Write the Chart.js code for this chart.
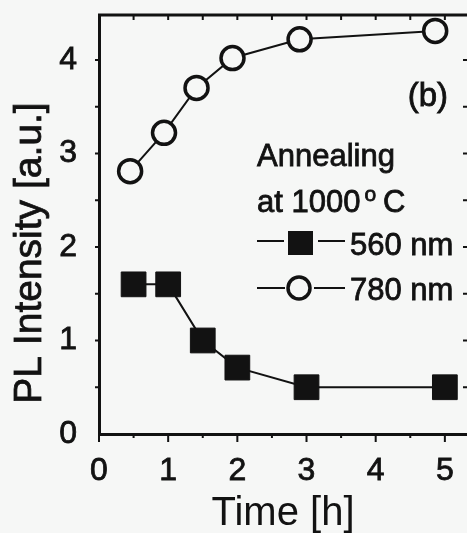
<!DOCTYPE html>
<html lang="en">
<head>
  <meta charset="UTF-8" />
  <title>PL Intensity vs annealing time</title>
  <script src="https://cdn.jsdelivr.net/npm/chart.js"></script>
  <style>
    html, body {
      margin: 0;
      padding: 0;
      background: #f6f7f6;
    }
    #plot {
      display: block;
    }
  </style>
</head>
<body>
  <canvas id="plot" width="467" height="533"></canvas>

  <script>
    // data (the scan is a little skewed, so the
    // 780 nm circles sit slightly left of the nominal times)
    const times560 = [0.5, 1, 1.5, 2, 3, 5];
    const pl560 = [1.6, 1.6, 1.0, 0.71, 0.5, 0.5];
    const times780 = [0.45, 0.94, 1.41, 1.93, 2.9, 4.86];
    const pl780 = [2.81, 3.22, 3.7, 4.02, 4.22, 4.31];
    const xTicks = [0, 1, 2, 3, 4, 5];
    const yTicks = [0, 1, 2, 3, 4];

    const ink = '#121212';
    const bg = '#f6f7f6';
    const font = '"Liberation Sans", Arial, Helvetica, sans-serif';

    const pts = (xs, ys) => xs.map((x, i) => ({ x: x, y: ys[i] }));

    // filled text with a thin outline, the scan prints a bit heavy
    function txt(ctx, s, x, y) {
      ctx.fillText(s, x, y);
      ctx.strokeText(s, x, y);
    }

    // frame, inward/outward ticks, y title, legend text and the (b) label
    const decor = {
      id: 'decor',
      afterDraw(chart) {
        const { ctx, chartArea: a, scales } = chart;
        const xs = scales.x, ys = scales.y;
        ctx.save();
        ctx.strokeStyle = ink;
        ctx.fillStyle = ink;

        // top frame line
        ctx.lineWidth = 3;
        ctx.beginPath();
        ctx.moveTo(a.left - 1, a.top);
        ctx.lineTo(a.right, a.top);
        ctx.stroke();

        ctx.lineWidth = 2;
        ctx.beginPath();
        for (let v = 0; v <= 5; v += 0.5) {
          const px = xs.getPixelForValue(v);
          const major = v % 1 === 0;
          // bottom: outward
          ctx.moveTo(px, a.bottom);
          ctx.lineTo(px, a.bottom + (major ? 8 : 4));
          // top: inward
          if (v > 0) {
            ctx.moveTo(px, a.top);
            ctx.lineTo(px, a.top + 5);
          }
        }
        for (let v = 0.5; v <= 4; v += 0.5) {
          const py = ys.getPixelForValue(v);
          // left: outward
          ctx.moveTo(a.left, py);
          ctx.lineTo(a.left - 4, py);
          // right edge: inward
          ctx.moveTo(a.right, py);
          ctx.lineTo(a.right - 4, py);
        }
        ctx.stroke();

        ctx.lineWidth = 0.8;
        ctx.textBaseline = 'alphabetic';

        // y axis title
        ctx.save();
        ctx.translate(41, 253);
        ctx.rotate(-Math.PI / 2);
        ctx.font = '39px ' + font;
        ctx.textAlign = 'center';
        txt(ctx, 'PL Intensity [a.u.]', 0, 0);
        ctx.restore();

        // legend block
        ctx.font = '31px ' + font;
        ctx.textAlign = 'left';
        txt(ctx, 'Annealing', 257, 166);
        txt(ctx, 'at 1000', 257, 212);
        const w = ctx.measureText('at 1000').width;
        ctx.font = '21px ' + font;
        txt(ctx, 'o', 257 + w + 4, 201);
        ctx.font = '31px ' + font;
        txt(ctx, 'C', 383, 212);
        txt(ctx, '560 nm', 350, 255);
        txt(ctx, '780 nm', 350, 300);

        ctx.font = '33px ' + font;
        ctx.textAlign = 'right';
        txt(ctx, '(b)', 448, 106);

        // legend samples
        ctx.lineWidth = 2;
        ctx.beginPath();
        ctx.moveTo(257, 241); ctx.lineTo(284, 241);
        ctx.moveTo(318, 241); ctx.lineTo(345, 241);
        ctx.moveTo(257, 288); ctx.lineTo(285, 288);
        ctx.moveTo(314, 288); ctx.lineTo(345, 288);
        ctx.stroke();
        ctx.fillRect(288, 231, 25, 24);
        ctx.fillStyle = bg;
        ctx.lineWidth = 3.5;
        ctx.beginPath();
        ctx.arc(299, 288, 11, 0, Math.PI * 2);
        ctx.fill();
        ctx.stroke();
        ctx.restore();
      }
    };

    new Chart(document.getElementById('plot'), {
      type: 'scatter',
      data: {
        datasets: [
          {
            label: '560 nm',
            data: pts(times560, pl560),
            showLine: true,
            borderColor: ink,
            borderWidth: 2,
            pointStyle: 'rect',
            pointRadius: 17.5,
            pointBorderWidth: 1,
            pointBackgroundColor: ink,
            pointBorderColor: ink
          },
          {
            label: '780 nm',
            data: pts(times780, pl780),
            showLine: true,
            borderColor: ink,
            borderWidth: 2,
            pointStyle: 'circle',
            pointRadius: 11.5,
            pointBorderWidth: 3.5,
            pointBackgroundColor: bg,
            pointBorderColor: ink
          }
        ]
      },
      options: {
        responsive: false,
        animation: false,
        devicePixelRatio: 1,
        layout: { autoPadding: false, padding: { top: 15, right: 0, left: 0, bottom: 0 } },
        plugins: {
          legend: { display: false },
          tooltip: { enabled: false }
        },
        scales: {
          x: {
            type: 'linear',
            min: 0,
            max: 5.32,
            afterBuildTicks: s => { s.ticks = xTicks.map(v => ({ value: v })); },
            afterFit: s => { s.height = 99; s.paddingLeft = 0; s.paddingRight = 0; },
            grid: { display: false },
            border: { display: true, color: ink, width: 3 },
            ticks: {
              color: ink,
              padding: 10,
              font: { family: font, size: 32 },
              textStrokeColor: ink,
              textStrokeWidth: 0.8,
              maxRotation: 0
            },
            title: {
              display: true,
              text: 'Time [h]',
              color: ink,
              font: { family: font, size: 40 },
              padding: { top: 0, bottom: -5 }
            }
          },
          y: {
            min: 0,
            max: 4.48,
            afterBuildTicks: s => { s.ticks = yTicks.map(v => ({ value: v })); },
            afterFit: s => { s.width = 99; s.paddingTop = 0; s.paddingBottom = 0; },
            grid: { display: false },
            border: { display: true, color: ink, width: 3 },
            ticks: {
              color: ink,
              padding: 14,
              font: { family: font, size: 32 },
              textStrokeColor: ink,
              textStrokeWidth: 0.8
            }
          }
        }
      },
      plugins: [decor]
    });
  </script>
</body>
</html>
